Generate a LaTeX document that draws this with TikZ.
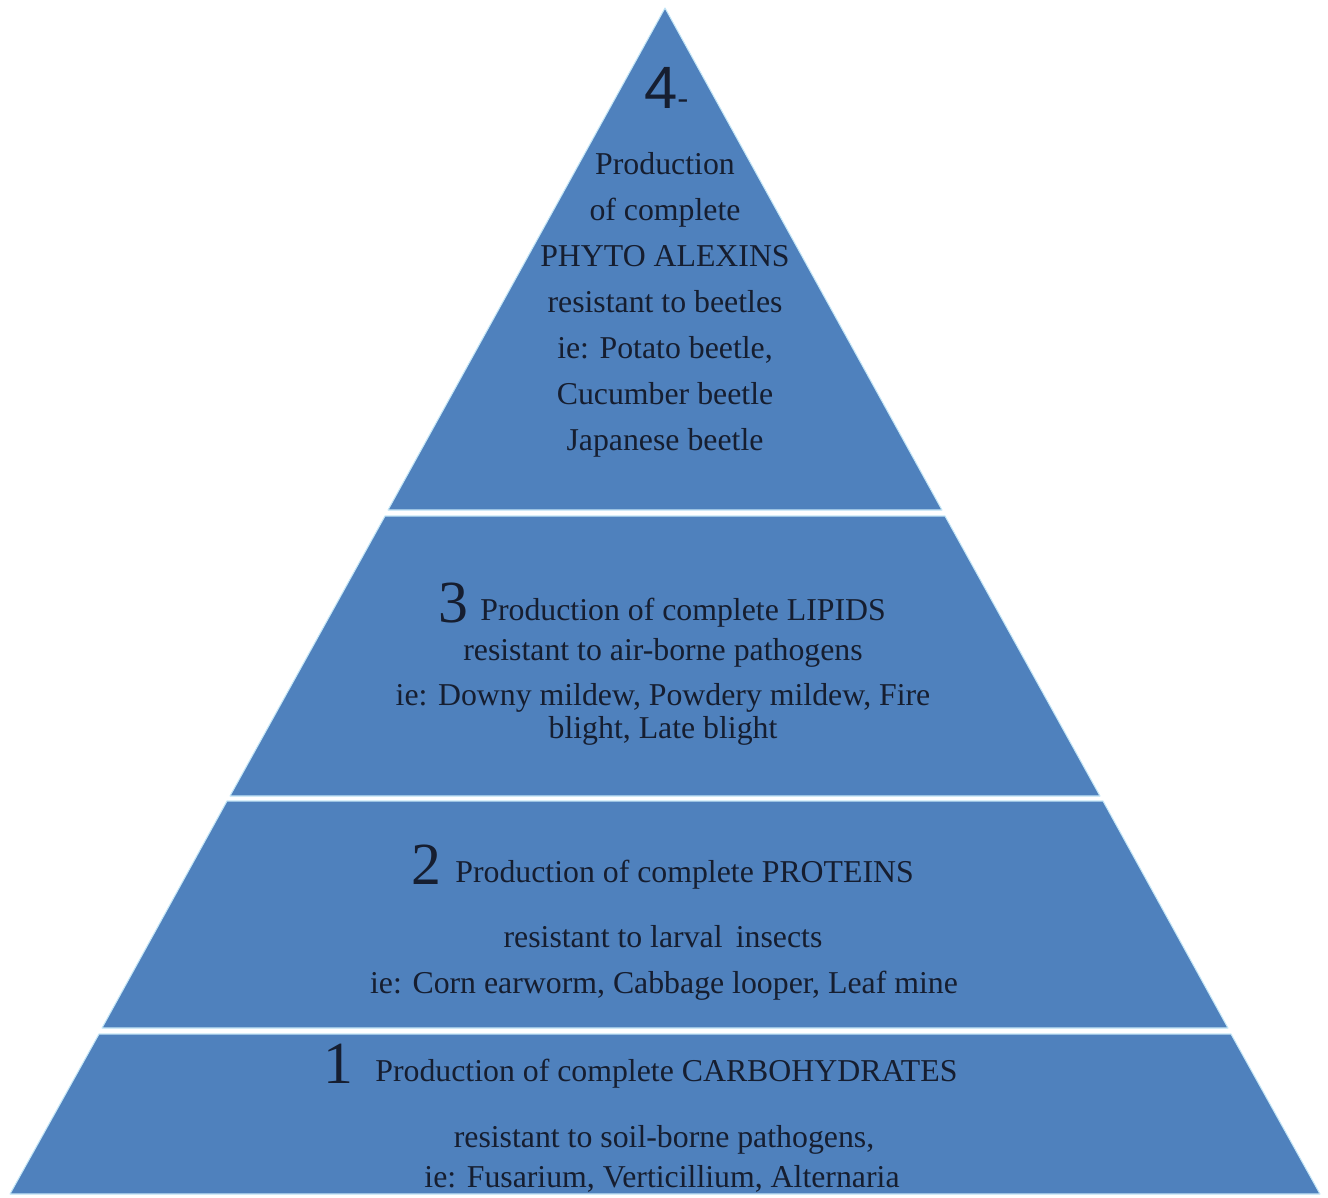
\documentclass[tikz,border=0pt]{standalone}
\usepackage{fontspec}
\setmainfont{Liberation Serif}
\newfontfamily\numsans{Liberation Sans}
\usepackage{tikz}
\usetikzlibrary{positioning,calc}
\definecolor{pyrblue}{RGB}{79,129,189}
\definecolor{pyredge}{RGB}{196,230,246}
\definecolor{inkdark}{RGB}{22,30,48}

\begin{document}
\begin{tikzpicture}[
        x=0.02cm, y=-0.02cm,
        layer/.style={fill=pyrblue, draw=pyredge, line width=0.6pt, line join=round},
        txt/.style={inner sep=0pt, font=\fontsize{18.1}{26.2}\selectfont, text=inkdark, anchor=base},
        num/.style={inner sep=0pt, font=\fontsize{34}{34}\selectfont, text=inkdark, anchor=base east}
    ]
        \useasboundingbox (0,0) rectangle (1328,1197);
        \clip (0,0) rectangle (1328,1197);

        % pyramid layers, apex at (665,8)
        \draw[layer] (665,8) -- (942,510) -- (388,510) -- cycle;
        \draw[layer] (385,516) -- (945,516) -- (1100,796) -- (230,796) -- cycle;
        \draw[layer] (227,801) -- (1103,801) -- (1228,1028) -- (102,1028) -- cycle;
        \draw[layer] (99,1034) -- (1231,1034) -- (1320,1194) -- (10,1194) -- cycle;

        % level 4
        \node[txt, anchor=base west] (n4) at (644,108) {{\numsans\fontsize{34}{34}\selectfont 4}-};
        \node[txt, anchor=center, align=center] (t4) at (665,305) {Production\\of complete\\PHYTO ALEXINS\\resistant to beetles\\ie: Potato beetle,\\Cucumber beetle\\Japanese beetle};

        % level 3
        \node[txt, anchor=base west] (t3a) at (480,620) {Production of complete LIPIDS};
        \node[num] (n3) at (469,622) {3};
        \node[txt] (t3b) at (663,660) {resistant to air-borne pathogens};
        \node[txt] (t3c) at (663,705) {ie: Downy mildew, Powdery mildew, Fire};
        \node[txt] (t3d) at (663,738) {blight, Late blight};

        % level 2
        \node[txt, anchor=base west] (t2a) at (455,882) {Production of complete PROTEINS};
        \node[num] (n2) at (442,884) {2};
        \node[txt] (t2b) at (663,947) {resistant to larval\, insects};
        \node[txt] (t2c) at (664,993) {ie: Corn earworm, Cabbage looper, Leaf mine};

        % level 1
        \node[txt, anchor=base west] (t1a) at (375,1081) {Production of complete CARBOHYDRATES};
        \node[num] (n1) at (354,1083) {1};
        \node[txt] (t1b) at (664,1147) {resistant to soil-borne pathogens,};
        \node[txt] (t1c) at (662,1187) {ie: Fusarium, Verticillium, Alternaria};
    \end{tikzpicture}
\end{document}
